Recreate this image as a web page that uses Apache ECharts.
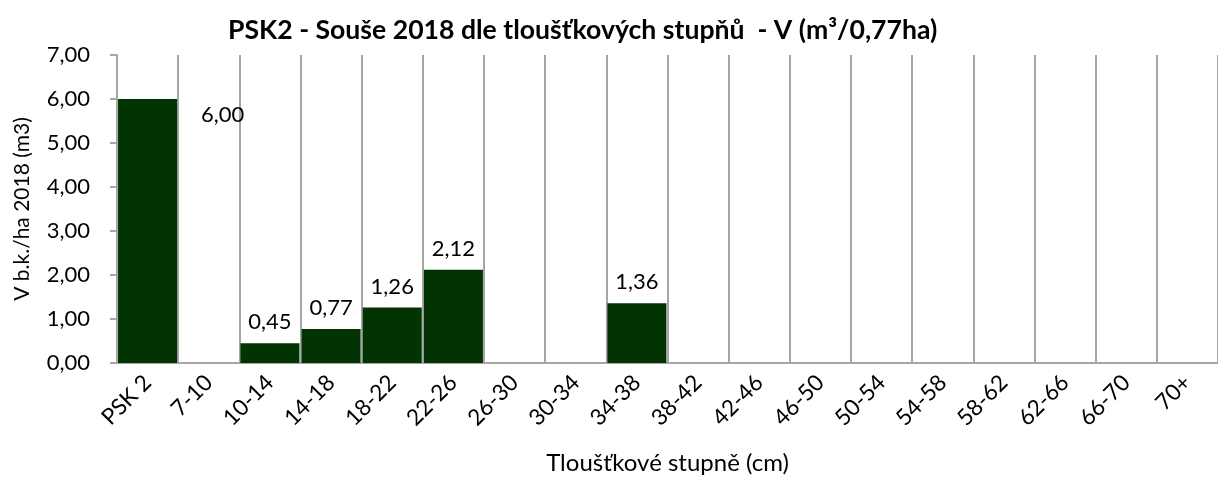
<!DOCTYPE html>
<html lang="cs">
<head>
    <meta charset="UTF-8">
    <title>PSK2 - Souše 2018</title>
    <script src="https://cdn.jsdelivr.net/npm/echarts@6/dist/echarts.min.js"></script>
    <style>
        html, body { margin: 0; padding: 0; background: #fff; }
    </style>
</head>
<body>
    <div id="main" style="width:1218px;height:489px;"></div>
    <script>
        // kategorie (tloustkove stupne)
        var categories = ['PSK 2', '7-10', '10-14', '14-18', '18-22', '22-26', '26-30', '30-34', '34-38',
            '38-42', '42-46', '46-50', '50-54', '54-58', '58-62', '62-66', '66-70', '70+'];
        // objem V b.k./ha 2018 (m3), prazdne = bez hodnoty
        var values = [6.00, null, 0.45, 0.77, 1.26, 2.12, null, null, 1.36,
            null, null, null, null, null, null, null, null, null];

        var fontName = 'Lato';
        var fmt = function (v) { return Number(v).toFixed(2).replace('.', ','); };

        var seriesData = values.map(function (v, i) {
            if (i === 0) {
                // popisek souhrnne hodnoty je posunuty vpravo od sloupce
                return { value: v, label: { offset: [75, 37] } };
            }
            return v;
        });

        var myChart = echarts.init(document.getElementById('main'));
        var option = {
            animation: false,
            title: {
                text: 'PSK2 - Souše 2018 dle tloušťkových stupňů  - V (m³/0,77ha)',
                left: 223,
                top: 12,
                textStyle: { fontFamily: fontName, fontSize: 26.6, fontWeight: 'bold', color: '#000' }
            },
            grid: {
                left: 117,
                right: -10,
                top: 55,
                bottom: 126
            },
            xAxis: {
                type: 'category',
                data: categories,
                name: 'Tloušťkové stupně (cm)',
                nameLocation: 'middle',
                nameGap: 88,
                nameTextStyle: { fontFamily: fontName, fontSize: 24, color: '#000' },
                axisLine: { lineStyle: { color: '#a6a6a6', width: 2 } },
                axisTick: { show: false },
                axisLabel: {
                    interval: 0,
                    rotate: 45,
                    margin: 16,
                    fontFamily: fontName,
                    fontSize: 22.5,
                    color: '#000'
                },
                splitLine: { show: true, lineStyle: { color: '#a6a6a6', width: 2 } }
            },
            yAxis: {
                type: 'value',
                min: 0,
                max: 7,
                interval: 1,
                name: 'V b.k./ha 2018 (m3)',
                nameLocation: 'middle',
                nameGap: 84,
                nameTextStyle: { fontFamily: fontName, fontSize: 21, color: '#000' },
                axisLine: { show: true, lineStyle: { color: '#a6a6a6', width: 2 } },
                axisTick: { show: true, length: 7, lineStyle: { color: '#a6a6a6', width: 2 } },
                axisLabel: {
                    margin: 27,
                    fontFamily: fontName,
                    fontSize: 22,
                    color: '#000',
                    formatter: fmt
                },
                splitLine: { show: false }
            },
            series: [
                {
                    type: 'bar',
                    data: seriesData,
                    barCategoryGap: '3.5%',
                    itemStyle: { color: '#023302' },
                    label: {
                        show: true,
                        position: 'top',
                        distance: 10,
                        fontFamily: fontName,
                        fontSize: 22,
                        color: '#000',
                        formatter: function (p) { return fmt(p.value); }
                    }
                }
            ]
        };
        myChart.setOption(option);
    </script>
</body>
</html>
